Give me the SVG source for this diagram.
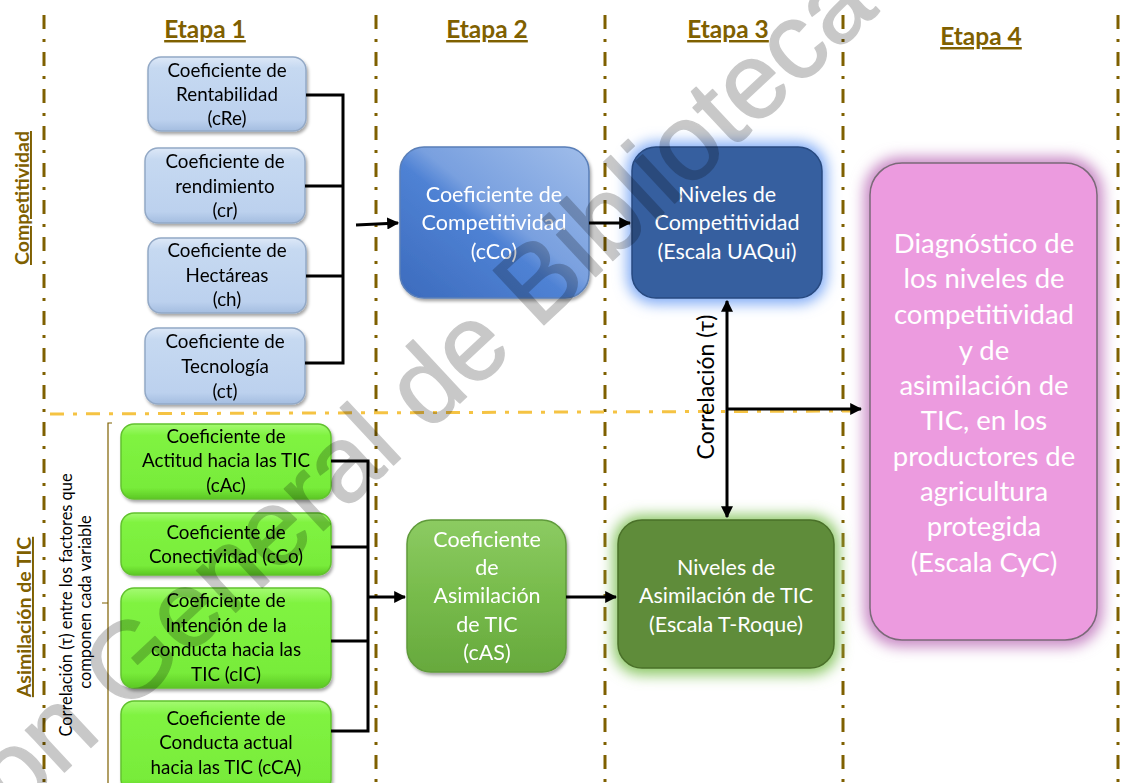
<svg xmlns="http://www.w3.org/2000/svg" width="1131" height="783" viewBox="0 0 1131 783">
  <style>
    .lane { stroke: #7f6000; stroke-width: 3; stroke-dasharray: 14 10 3 10; fill: none; }
    .split { stroke: #f5c343; stroke-width: 3; stroke-dasharray: 14 9 4 9; fill: none; }
    .wire { stroke: #000; stroke-width: 3; fill: none; }
    .stage { font-family: Lato, "Liberation Sans", sans-serif; font-weight: bold; font-size: 24.5px; fill: #7f6000; text-decoration: underline; text-anchor: middle; }
    .side { font-family: Lato, "Liberation Sans", sans-serif; font-weight: bold; font-size: 19.5px; fill: #7f6000; text-decoration: underline; text-anchor: middle; }
    .small { font-family: Lato, "Liberation Sans", sans-serif; font-size: 18.8px; fill: #000; text-anchor: middle; }
    .big { font-family: Lato, "Liberation Sans", sans-serif; font-size: 21.5px; fill: #fff; text-anchor: middle; }
    .huge { font-family: Lato, "Liberation Sans", sans-serif; font-size: 27.5px; fill: #fff; text-anchor: middle; }
    .note { font-family: Lato, "Liberation Sans", sans-serif; font-size: 16.4px; fill: #000; text-anchor: middle; }
    .corr { font-family: Lato, "Liberation Sans", sans-serif; font-size: 23px; fill: #000; text-anchor: middle; }
    .wm { font-family: "Liberation Sans", Arial, sans-serif; font-size: 108px; fill: #000; stroke: #000; stroke-width: 1.5; stroke-linejoin: round; opacity: 0.21; }
  </style>
  <defs>
    <marker id="arrow" viewBox="0 0 10 10" refX="9" refY="5" markerWidth="4" markerHeight="4" orient="auto-start-reverse" markerUnits="strokeWidth">
      <path d="M0,0 L10,5 L0,10 Z" fill="#000"/>
    </marker>
    <linearGradient id="gBlueSmall" x1="0" y1="0" x2="0" y2="1">
      <stop offset="0" stop-color="#dde8f7"/>
      <stop offset="0.15" stop-color="#c6d9f1"/>
      <stop offset="0.85" stop-color="#bcd1ee"/>
      <stop offset="1" stop-color="#a4bde0"/>
    </linearGradient>
    <linearGradient id="gGreenSmall" x1="0" y1="0" x2="0" y2="1">
      <stop offset="0" stop-color="#a4fa72"/>
      <stop offset="0.15" stop-color="#80f341"/>
      <stop offset="0.85" stop-color="#78ec3a"/>
      <stop offset="1" stop-color="#5cc824"/>
    </linearGradient>
    <linearGradient id="gCoefComp" x1="0" y1="1" x2="1" y2="0">
      <stop offset="0" stop-color="#3c6bbd"/>
      <stop offset="0.45" stop-color="#4f82d4"/>
      <stop offset="0.55" stop-color="#79a0df"/>
      <stop offset="1" stop-color="#a0bdea"/>
    </linearGradient>
    <linearGradient id="gCoefAsim" x1="0" y1="0" x2="0" y2="1">
      <stop offset="0" stop-color="#8ccb62"/>
      <stop offset="0.5" stop-color="#77bb4b"/>
      <stop offset="1" stop-color="#67a93d"/>
    </linearGradient>
    <filter id="shadow" x="-10%" y="-10%" width="125%" height="130%">
      <feDropShadow dx="1.5" dy="2.5" stdDeviation="1.8" flood-color="#000" flood-opacity="0.35"/>
    </filter>
    <filter id="glow" x="-30%" y="-30%" width="160%" height="160%">
      <feGaussianBlur stdDeviation="7"/>
    </filter>
  </defs>

  <!-- stage separators -->
  <g id="lanes">
    <line class="lane" x1="44" y1="15" x2="44" y2="783"/>
    <line class="lane" x1="376" y1="15" x2="376" y2="783"/>
    <line class="lane" x1="605" y1="15" x2="605" y2="783"/>
    <line class="lane" x1="843" y1="15" x2="843" y2="783"/>
    <line class="lane" x1="1118" y1="15" x2="1118" y2="783"/>
  </g>

  <!-- stage headings and row labels -->
  <g id="headings">
    <text class="stage" x="205" y="38">Etapa 1</text>
    <text class="stage" x="487" y="38">Etapa 2</text>
    <text class="stage" x="728" y="38">Etapa 3</text>
    <text class="stage" x="981" y="45">Etapa 4</text>
    <text class="side" transform="translate(29,198) rotate(-90)">Competitividad</text>
    <text class="side" transform="translate(31,617) rotate(-90)">Asimilación de TIC</text>
  </g>

  <g id="factor-note">
    <path d="M112,423 L108,423 L108,783 M108,603 L102,603" stroke="#7f6000" stroke-width="1.2" fill="none"/>
    <text class="note" transform="translate(72,605) rotate(-90)">Correlación (τ) entre los factores que</text>
    <text class="note" transform="translate(91,602) rotate(-90)">componen cada variable</text>
  </g>

  <!-- competitiveness coefficients -->
  <g id="cRe" filter="url(#shadow)">
    <rect x="148" y="57" width="158" height="74" rx="13" fill="url(#gBlueSmall)" stroke="#93a9c6" stroke-width="1.5"/>
    <text class="small" x="227" y="77">Coeficiente de</text>
    <text class="small" x="227" y="101">Rentabilidad</text>
    <text class="small" x="227" y="125">(cRe)</text>
  </g>
  <g id="cr" filter="url(#shadow)">
    <rect x="145" y="148" width="160" height="75" rx="13" fill="url(#gBlueSmall)" stroke="#93a9c6" stroke-width="1.5"/>
    <text class="small" x="225" y="168">Coeficiente de</text>
    <text class="small" x="225" y="193">rendimiento</text>
    <text class="small" x="225" y="217">(cr)</text>
  </g>
  <g id="ch" filter="url(#shadow)">
    <rect x="148" y="238" width="158" height="75" rx="13" fill="url(#gBlueSmall)" stroke="#93a9c6" stroke-width="1.5"/>
    <text class="small" x="227" y="257">Coeficiente de</text>
    <text class="small" x="227" y="282">Hectáreas</text>
    <text class="small" x="227" y="306">(ch)</text>
  </g>
  <g id="ct" filter="url(#shadow)">
    <rect x="145" y="328" width="160" height="76" rx="13" fill="url(#gBlueSmall)" stroke="#93a9c6" stroke-width="1.5"/>
    <text class="small" x="225" y="348">Coeficiente de</text>
    <text class="small" x="225" y="373">Tecnología</text>
    <text class="small" x="225" y="398">(ct)</text>
  </g>

  <!-- ICT assimilation coefficients -->
  <g id="cAc" filter="url(#shadow)">
    <rect x="121" y="424" width="210" height="75" rx="13" fill="url(#gGreenSmall)" stroke="#62c22f" stroke-width="1.5"/>
    <text class="small" x="226" y="443">Coeficiente de</text>
    <text class="small" x="226" y="467">Actitud hacia las TIC</text>
    <text class="small" x="226" y="492">(cAc)</text>
  </g>
  <g id="cCo-tic" filter="url(#shadow)">
    <rect x="121" y="513" width="210" height="62" rx="13" fill="url(#gGreenSmall)" stroke="#62c22f" stroke-width="1.5"/>
    <text class="small" x="226" y="539">Coeficiente de</text>
    <text class="small" x="226" y="563">Conectividad (cCo)</text>
  </g>
  <g id="cIC" filter="url(#shadow)">
    <rect x="121" y="588" width="210" height="100" rx="13" fill="url(#gGreenSmall)" stroke="#62c22f" stroke-width="1.5"/>
    <text class="small" x="226" y="607">Coeficiente de</text>
    <text class="small" x="226" y="632">Intención de la</text>
    <text class="small" x="226" y="656">conducta hacia las</text>
    <text class="small" x="226" y="681">TIC (cIC)</text>
  </g>
  <g id="cCA" filter="url(#shadow)">
    <rect x="121" y="701" width="210" height="92" rx="13" fill="url(#gGreenSmall)" stroke="#62c22f" stroke-width="1.5"/>
    <text class="small" x="226" y="725">Coeficiente de</text>
    <text class="small" x="226" y="749">Conducta actual</text>
    <text class="small" x="226" y="774">hacia las TIC (cCA)</text>
  </g>

  <!-- stage 2 -->
  <g id="cCo" filter="url(#shadow)">
    <rect x="400" y="147" width="189" height="151" rx="24" fill="url(#gCoefComp)" stroke="#5a7fb8" stroke-width="1.5"/>
    <text class="big" x="494" y="202">Coeficiente de</text>
    <text class="big" x="494" y="230">Competitividad</text>
    <text class="big" x="494" y="259">(cCo)</text>
  </g>
  <g id="cAS" filter="url(#shadow)">
    <rect x="407" y="520" width="159" height="152" rx="24" fill="url(#gCoefAsim)" stroke="#5f9a3a" stroke-width="1.5"/>
    <text class="big" x="487" y="547">Coeficiente</text>
    <text class="big" x="487" y="575">de</text>
    <text class="big" x="487" y="603">Asimilación</text>
    <text class="big" x="487" y="632">de TIC</text>
    <text class="big" x="487" y="660">(cAS)</text>
  </g>

  <!-- stage 3 -->
  <g id="uaqui">
    <rect x="627" y="142" width="200" height="162" rx="28" fill="#80abf6" filter="url(#glow)"/>
    <rect x="632" y="147" width="190" height="151" rx="24" fill="#365f9f" stroke="#284a80" stroke-width="1.5"/>
    <text class="big" x="727" y="202">Niveles de</text>
    <text class="big" x="727" y="230">Competitividad</text>
    <text class="big" x="727" y="259">(Escala UAQui)</text>
  </g>
  <g id="troque">
    <rect x="613" y="515" width="226" height="160" rx="28" fill="#8cc866" filter="url(#glow)"/>
    <rect x="618" y="520" width="216" height="148" rx="24" fill="#5f8c3a" stroke="#4a7029" stroke-width="1.5"/>
    <text class="big" x="726" y="575">Niveles de</text>
    <text class="big" x="726" y="603">Asimilación de TIC</text>
    <text class="big" x="726" y="632">(Escala T-Roque)</text>
  </g>

  <!-- stage 4 -->
  <g id="cyc">
    <rect x="864" y="157" width="239" height="490" rx="36" fill="#c98ac6" filter="url(#glow)"/>
    <rect x="870" y="163" width="227" height="477" rx="32" fill="#ec9bdf" stroke="#7a6a78" stroke-width="1.5"/>
    <text class="huge" x="984" y="253">Diagnóstico de</text>
    <text class="huge" x="984" y="288">los niveles de</text>
    <text class="huge" x="984" y="324">competitividad</text>
    <text class="huge" x="984" y="360">y de</text>
    <text class="huge" x="984" y="395">asimilación de</text>
    <text class="huge" x="984" y="430">TIC, en los</text>
    <text class="huge" x="984" y="466">productores de</text>
    <text class="huge" x="984" y="501">agricultura</text>
    <text class="huge" x="984" y="536">protegida</text>
    <text class="huge" x="984" y="572">(Escala CyC)</text>
  </g>

  <!-- row divider -->
  <line class="split" x1="50" y1="414" x2="852" y2="411"/>

  <!-- connectors -->
  <g id="connectors">
    <path class="wire" d="M306,95 H343 V363 H305 M305,186 H343 M306,276 H343"/>
    <line class="wire" x1="356" y1="225" x2="398" y2="223" marker-end="url(#arrow)"/>
    <line class="wire" x1="589" y1="223" x2="630" y2="223" marker-end="url(#arrow)"/>
    <path class="wire" d="M331,461 H368 V731 H331 M331,547 H368 M331,641 H368"/>
    <line class="wire" x1="368" y1="597" x2="405" y2="597" marker-end="url(#arrow)"/>
    <line class="wire" x1="566" y1="597" x2="616" y2="597" marker-end="url(#arrow)"/>
    <line class="wire" x1="727" y1="301" x2="727" y2="517" marker-start="url(#arrow)" marker-end="url(#arrow)"/>
    <line class="wire" x1="727" y1="409" x2="861" y2="409" marker-end="url(#arrow)"/>
    <text class="corr" transform="translate(714,387) rotate(-90)">Correlación (τ)</text>
  </g>

  <!-- library watermark -->
  <text class="wm" transform="translate(15,818) rotate(-43)">ón General de Biblioteca</text>
</svg>
